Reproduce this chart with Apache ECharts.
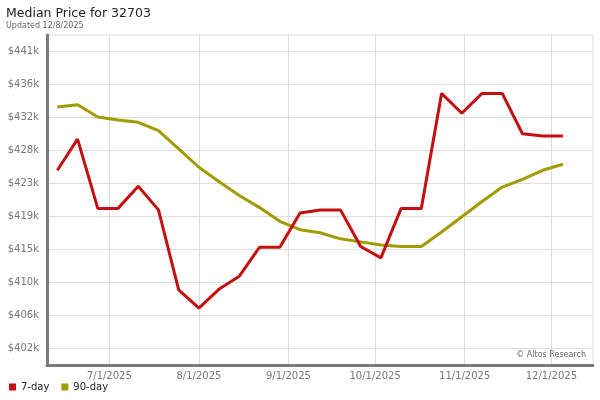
<!DOCTYPE html>
<html>
<head>
<meta charset="utf-8">
<script src="https://cdn.jsdelivr.net/npm/echarts@6/dist/echarts.min.js"></script>
<style>
  html, body { margin: 0; padding: 0; background: #fff; }
  #main { width: 600px; height: 400px; }
</style>
</head>
<body>
<div id="main"></div>
<script>
// weekly dates (Fridays)
var dates = [
  '2025-06-13', '2025-06-20', '2025-06-27', '2025-07-04', '2025-07-11', '2025-07-18',
  '2025-07-25', '2025-08-01', '2025-08-08', '2025-08-15', '2025-08-22', '2025-08-29',
  '2025-09-05', '2025-09-12', '2025-09-19', '2025-09-26', '2025-10-03', '2025-10-10',
  '2025-10-17', '2025-10-24', '2025-10-31', '2025-11-07', '2025-11-14', '2025-11-21',
  '2025-11-28', '2025-12-05'
];
// median price, $k
var sevenDay = [
  425.4, 429.5, 420.4, 420.4, 423.3, 420.2, 409.7, 407.3, 409.8, 411.5,
  415.3, 415.3, 419.8, 420.2, 420.2, 415.4, 413.9, 420.4, 420.4, 435.5,
  432.9, 435.5, 435.5, 430.2, 429.9, 429.9
];
var ninetyDay = [
  433.7, 434.0, 432.4, 432.0, 431.7, 430.6, 428.2, 425.8, 423.9, 422.1,
  420.5, 418.7, 417.6, 417.2, 416.4, 416.0, 415.6, 415.4, 415.4, 417.3,
  419.3, 421.3, 423.2, 424.2, 425.4, 426.2
];
var yTicks = [402, 406.333, 410.667, 415, 419.333, 423.667, 428, 432.333, 436.667, 441];
var xTicks = ['2025-07-01', '2025-08-01', '2025-09-01', '2025-10-01', '2025-11-01', '2025-12-01'];

function ts(s) { return new Date(s + 'T00:00:00').getTime(); }
function pairs(vals) {
  return vals.map(function (v, i) { return [ts(dates[i]), v]; });
}
var xTickTs = xTicks.map(ts);

var chart = echarts.init(document.getElementById('main'), null, { renderer: 'canvas' });
var font = 'DejaVu Sans';
var option = {
  animation: false,
  textStyle: { fontFamily: font },
  title: [
    {
      text: 'Median Price for 32703',
      subtext: 'Updated 12/8/2025',
      left: 6, top: 7,
      padding: 0,
      itemGap: 2,
      textStyle: { fontSize: 12.5, fontWeight: 'normal', color: '#222', fontFamily: font },
      subtextStyle: { fontSize: 8, color: '#666', fontFamily: font }
    },
    {
      text: '\u00a9 Altos Research',
      right: 9, top: 346,
      textStyle: { fontSize: 8, fontWeight: 'normal', color: '#666', fontFamily: font }
    }
  ],
  legend: {
    left: 4, bottom: 3,
    icon: 'rect',
    itemWidth: 7, itemHeight: 7,
    itemGap: 12,
    textStyle: { fontSize: 10, color: '#222', fontFamily: font },
    data: ['7-day', '90-day']
  },
  grid: {
    left: 47, right: 7, top: 35, bottom: 35,
    show: true, borderColor: '#ddd', borderWidth: 1
  },
  xAxis: {
    type: 'value',
    min: ts('2025-06-09') + 10 * 3600e3,
    max: ts('2025-12-15') + 10 * 3600e3,
    axisLine: { show: true, lineStyle: { color: '#7a7a7a', width: 3 } },
    axisTick: { show: false, customValues: xTickTs },
    axisLabel: {
      customValues: xTickTs,
      color: '#777', fontSize: 10, margin: 6, fontFamily: font,
      formatter: function (v) {
        var d = new Date(v);
        return (d.getMonth() + 1) + '/' + d.getDate() + '/' + d.getFullYear();
      }
    },
    splitLine: { show: true, lineStyle: { color: '#ddd', width: 1 } }
  },
  yAxis: {
    type: 'value',
    min: 399.83,
    max: 443.17,
    axisLine: { show: true, lineStyle: { color: '#7a7a7a', width: 3 } },
    axisTick: { show: false, customValues: yTicks },
    axisLabel: {
      customValues: yTicks,
      color: '#777', fontSize: 10, margin: 8, fontFamily: font,
      formatter: function (v) { return '$' + Math.floor(v + 0.001) + 'k'; }
    },
    splitLine: { show: true, lineStyle: { color: '#ddd', width: 1 } }
  },
  series: [
    {
      name: '7-day', type: 'line', data: pairs(sevenDay),
      showSymbol: false, symbol: 'none',
      lineStyle: { color: '#c41010', width: 3 },
      itemStyle: { color: '#c41010' },
      z: 3
    },
    {
      name: '90-day', type: 'line', data: pairs(ninetyDay),
      showSymbol: false, symbol: 'none',
      lineStyle: { color: '#a09c00', width: 3 },
      itemStyle: { color: '#a09c00' },
      z: 2
    }
  ]
};
chart.setOption(option);
</script>
</body>
</html>
